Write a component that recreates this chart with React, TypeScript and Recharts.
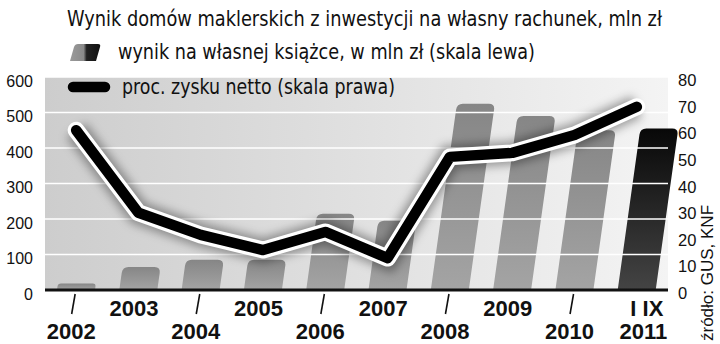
import {
    ComposedChart,
    Bar,
    Line,
    XAxis,
    YAxis,
    CartesianGrid,
    ReferenceLine,
} from 'recharts'

const years = ['2002', '2003', '2004', '2005', '2006', '2007', '2008', '2009', '2010', '2011']
const upperLabels = ['', '2003', '', '2005', '', '2007', '', '2009', '', 'I IX']
const lowerLabels = ['2002', '', '2004', '', '2006', '', '2008', '', '2010', '2011']
const bookResult = [18, 65, 85, 85, 215, 195, 525, 490, 450, 455]
const profitShare = [60, 29, 20.7, 15, 21.8, 12, 50, 51.5, 58.2, 68.8]
const leftTicks = [0, 100, 200, 300, 400, 500, 600]
const rightTicks = [0, 10, 20, 30, 40, 50, 60, 70, 80]

const data = years.map((year, i) => ({
    year,
    book: bookResult[i],
    pct: profitShare[i],
}))

const condensed = '"DejaVu Sans Condensed", "Liberation Sans", sans-serif'
const plain = '"Liberation Sans", Arial, sans-serif'

const SlantBar = (props: any) => {
    const { x, y, width: w, height: h, index } = props
    if (!h || h <= 0) return null
    const s = h * 0.14
    const r = Math.min(6, h / 2)
    const sr = s * (1 - r / h)
    const d = [
        `M${x},${y + h}`,
        `L${x + sr},${y + r}`,
        `Q${x + s},${y} ${x + s + r},${y}`,
        `L${x + s + w - r},${y}`,
        `Q${x + s + w},${y} ${x + w + sr},${y + r}`,
        `L${x + w},${y + h}`,
        'Z',
    ].join(' ')
    const fill = index === years.length - 1 ? 'url(#barDark)' : 'url(#barGray)'
    return <path d={d} fill={fill} />
}

const LeftTick = ({ x, y, payload }: any) => (
    <text x={x - 10} y={y + 4} textAnchor="end" dominantBaseline="central" fontFamily={plain} fontSize={16} fill="#111">
        {payload.value}
    </text>
)

const RightTick = ({ x, y, payload }: any) => (
    <text x={x + 8} y={y + 3} textAnchor="start" dominantBaseline="central" fontFamily={plain} fontSize={16.5} fill="#111">
        {payload.value}
    </text>
)

const YearTick = ({ x, y, index }: any) => {
    const last = index === years.length - 1
    const top = upperLabels[index]
    const bottom = lowerLabels[index]
    const showMark = bottom && !last
    return (
        <g>
            {showMark && (
                <line x1={x - 1} y1={y + 2} x2={x - 4.5} y2={y + 22} stroke="#111" strokeWidth={1.6} />
            )}
            {top && (
                <text x={last ? x + 10 : x - 4.5} y={y + 24} textAnchor="middle" fontFamily={plain} fontWeight="bold" fontSize={22} fill="#111">
                    {top}
                </text>
            )}
            {bottom && (
                <text x={last ? x + 6.5 : x - 5} y={y + 47} textAnchor="middle" fontFamily={plain} fontWeight="bold" fontSize={22} fill="#111">
                    {bottom}
                </text>
            )}
        </g>
    )
}

export default function App() {
    return (
        <div style={{ position: 'absolute', left: 0, top: 0, width: 720, height: 344, background: '#fff', overflow: 'hidden' }}>
            <ComposedChart
                width={720}
                height={344}
                data={data}
                margin={{ top: 77, right: 0, left: 0, bottom: 0 }}
                barSize={38}
            >
                <defs>
                    <linearGradient id="bg" x1="0" y1="0" x2="1" y2="0">
                        <stop offset="0%" stopColor="#cdcdcd" />
                        <stop offset="55%" stopColor="#e2e2e2" />
                        <stop offset="100%" stopColor="#f4f4f4" />
                    </linearGradient>
                    <linearGradient id="barGray" x1="0" y1="0" x2="0" y2="1">
                        <stop offset="0%" stopColor="#868686" />
                        <stop offset="100%" stopColor="#a4a4a4" />
                    </linearGradient>
                    <linearGradient id="barDark" x1="0" y1="0" x2="0" y2="1">
                        <stop offset="0%" stopColor="#080808" />
                        <stop offset="100%" stopColor="#444" />
                    </linearGradient>
                    <filter id="blur" x="-20%" y="-20%" width="140%" height="140%">
                        <feGaussianBlur stdDeviation="5" />
                    </filter>
                </defs>
                <CartesianGrid fill="url(#bg)" stroke="none" horizontal={false} vertical={false} />
                <XAxis
                    dataKey="year"
                    height={54}
                    interval={0}
                    tickLine={false}
                    tickSize={0}
                    axisLine={{ stroke: '#111', strokeWidth: 3 }}
                    tick={<YearTick />}
                />
                <YAxis
                    yAxisId="left"
                    width={45}
                    domain={[0, 600]}
                    ticks={leftTicks}
                    axisLine={false}
                    tickLine={false}
                    tickSize={0}
                    tick={<LeftTick />}
                />
                <YAxis
                    yAxisId="right"
                    orientation="right"
                    width={52}
                    domain={[0, 80]}
                    ticks={rightTicks}
                    axisLine={false}
                    tickLine={false}
                    tickSize={0}
                    tick={<RightTick />}
                />
                <Bar yAxisId="left" dataKey="book" shape={<SlantBar />} isAnimationActive={false} />
                {leftTicks.slice(1).map((t) => (
                    <ReferenceLine key={t} yAxisId="left" y={t} stroke="#fff" strokeWidth={1.5} />
                ))}
                <Line
                    yAxisId="right"
                    dataKey="pct"
                    stroke="rgba(0,0,0,0.35)"
                    strokeWidth={24}
                    filter="url(#blur)"
                    dot={false}
                    activeDot={false}
                    isAnimationActive={false}
                />
                <Line
                    yAxisId="right"
                    dataKey="pct"
                    stroke="#fff"
                    strokeWidth={17}
                    strokeLinejoin="round"
                    strokeLinecap="round"
                    dot={false}
                    activeDot={false}
                    isAnimationActive={false}
                />
                <Line
                    yAxisId="right"
                    dataKey="pct"
                    stroke="#000"
                    strokeWidth={10.5}
                    strokeLinejoin="round"
                    strokeLinecap="round"
                    dot={false}
                    activeDot={false}
                    isAnimationActive={false}
                />
            </ComposedChart>

            <svg style={{ position: 'absolute', left: 0, top: 0 }} width={720} height={110}>
                <defs>
                    <linearGradient id="legBar" x1="0" y1="0" x2="1" y2="0">
                        <stop offset="0%" stopColor="#9a9a9a" />
                        <stop offset="45%" stopColor="#8a8a8a" />
                        <stop offset="55%" stopColor="#222" />
                        <stop offset="100%" stopColor="#111" />
                    </linearGradient>
                </defs>
                <text x={67} y={26} fontFamily={condensed} fontSize={21} fill="#111" textLength={595} lengthAdjust="spacingAndGlyphs">
                    Wynik domów maklerskich z inwestycji na własny rachunek, mln zł
                </text>
                <path d="M70,61 L74,47 Q75,44 78,44 L98,44 Q101,44 100,47 L96,61 Z" fill="url(#legBar)" />
                <text x={118} y={59} fontFamily={condensed} fontSize={21} fill="#111" textLength={417} lengthAdjust="spacingAndGlyphs">
                    wynik na własnej książce, w mln zł (skala lewa)
                </text>
                <line x1={73} y1={87} x2={105} y2={87} stroke="#000" strokeWidth={10.5} strokeLinecap="round" />
                <text x={122} y={94} fontFamily={condensed} fontSize={21} fill="#111" textLength={273} lengthAdjust="spacingAndGlyphs">
                    proc. zysku netto (skala prawa)
                </text>
            </svg>

            <div
                style={{
                    position: 'absolute',
                    left: 699,
                    top: 341,
                    transform: 'rotate(-90deg)',
                    transformOrigin: 'left top',
                    fontFamily: plain,
                    fontSize: 17,
                    lineHeight: '18px',
                    color: '#111',
                    whiteSpace: 'nowrap',
                }}
            >
                źródło: GUS, KNF
            </div>
        </div>
    )
}
